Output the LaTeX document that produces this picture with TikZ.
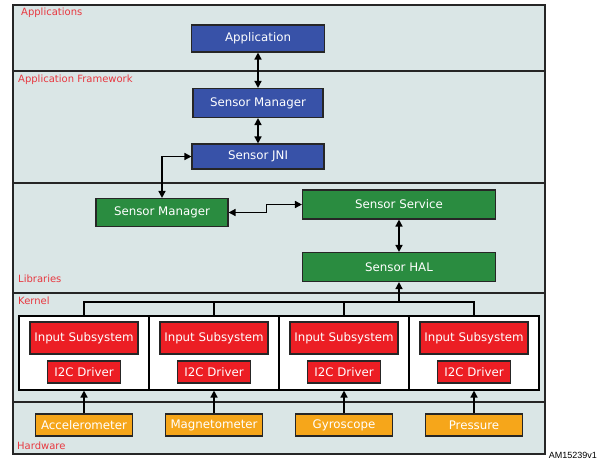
\documentclass[tikz,border=0pt]{standalone}
\usepackage{fontspec}
\setmainfont{DejaVu Sans}
\newfontfamily\arialfont{Liberation Sans}
\usetikzlibrary{arrows.meta}
\definecolor{layerbg}{RGB}{218,230,230}
\definecolor{bluebox}{RGB}{56,82,168}
\definecolor{greenbox}{RGB}{42,140,64}
\definecolor{redbox}{RGB}{236,30,36}
\definecolor{orangebox}{RGB}{246,166,26}
\definecolor{labelred}{RGB}{232,56,64}
\tikzset{
  layer/.style={draw=black!85, line width=1.3pt, fill=layerbg},
  layerlabel/.style={text=labelred, font=\fontsize{10}{11}\selectfont, anchor=west, inner sep=0pt},
  boxbase/.style={draw=black!85, line width=1.1pt, text=white, font=\fontsize{11.8}{13}\selectfont, inner sep=0pt},
  bluebx/.style={boxbase, fill=bluebox},
  greenbx/.style={boxbase, fill=greenbox},
  redbx/.style={boxbase, fill=redbox},
  orangebx/.style={boxbase, fill=orangebox},
  kbox/.style={draw=black, line width=1.1pt, fill=white, minimum width=130pt, minimum height=74pt, inner sep=0pt},
  dbl/.style={line width=1.5pt, {Triangle[length=7pt,width=7pt]}-{Triangle[length=7pt,width=7pt]}},
  sgl/.style={line width=1.5pt, -{Triangle[length=7pt,width=7pt]}},
  busline/.style={line width=1.3pt}
}
\begin{document}
\begin{tikzpicture}[x=1pt,y=-1pt]
\useasboundingbox (0,0) rectangle (599,460);
% layers
\draw[layer] (13,5) rectangle (545,71);
\draw[layer] (13,71) rectangle (545,183);
\draw[layer] (13,183) rectangle (545,293);
\draw[layer] (13,293) rectangle (545,402);
\draw[layer] (13,402) rectangle (545,454);
\node[layerlabel] (lapps) at (21,12.5) {Applications};
\node[layerlabel] (lfw) at (18,80) {Application Framework};
\node[layerlabel] (llib) at (18,279) {Libraries};
\node[layerlabel] (lker) at (18,301) {Kernel};
\node[layerlabel] (lhw) at (17,446) {Hardware};
\node[anchor=east, inner sep=0pt, font=\arialfont\fontsize{9}{10}\selectfont] (am) at (597,455) {AM15239v1};
% blue
\node[bluebx, minimum width=133pt, minimum height=27pt] (app) at (258,38.5) {Application};
\node[bluebx, minimum width=130pt, minimum height=29pt] (smgr) at (258,103) {Sensor Manager};
\node[bluebx, minimum width=132pt, minimum height=25pt] (jni) at (258,156.5) {Sensor JNI};
% green
\node[greenbx, minimum width=132pt, minimum height=28pt] (gsm) at (162,212.5) {Sensor Manager};
\node[greenbx, minimum width=193pt, minimum height=29pt] (svc) at (399,204.5) {Sensor Service};
\node[greenbx, minimum width=193pt, minimum height=29pt] (hal) at (399,267) {Sensor HAL};
% kernel
\foreach \i/\x in {1/84,2/214,3/344,4/474}{
  \node[kbox] (kb\i) at (\x,353) {};
  \node[redbx, minimum width=108pt, minimum height=32pt] (is\i) at (\x,338) {Input Subsystem};
  \node[redbx, minimum width=73pt, minimum height=22pt] (i2c\i) at (\x,372) {I2C Driver};
}
% hardware
\node[orangebx, minimum width=97pt, minimum height=22pt] (acc) at (84,425) {Accelerometer};
\node[orangebx, minimum width=97pt, minimum height=22pt] (mag) at (214,425) {Magnetometer};
\node[orangebx, minimum width=97pt, minimum height=22pt] (gyr) at (344,425) {Gyroscope};
\node[orangebx, minimum width=97pt, minimum height=22pt] (prs) at (474,425) {Pressure};
% connectors
\draw[dbl] (app.south) -- (smgr.north);
\draw[dbl] (smgr.south) -- (jni.north);
\draw[dbl] (jni.west) -| (gsm.north);
\draw[dbl] (gsm.east) -- ++(38,0) |- (svc.west);
\draw[dbl] (svc.south) -- (hal.north);
\coordinate (busl) at (84,302);
\draw[busline] (kb1.north) |- (busl) -| (kb4.north);
\draw[busline] (kb2.north) -- (kb2.north |- busl);
\draw[busline] (kb3.north) -- (kb3.north |- busl);
\draw[sgl] (hal.south |- busl) -- (hal.south);
\draw[sgl] (acc.north) -- (kb1.south);
\draw[sgl] (mag.north) -- (kb2.south);
\draw[sgl] (gyr.north) -- (kb3.south);
\draw[sgl] (prs.north) -- (kb4.south);
\end{tikzpicture}
\end{document}
